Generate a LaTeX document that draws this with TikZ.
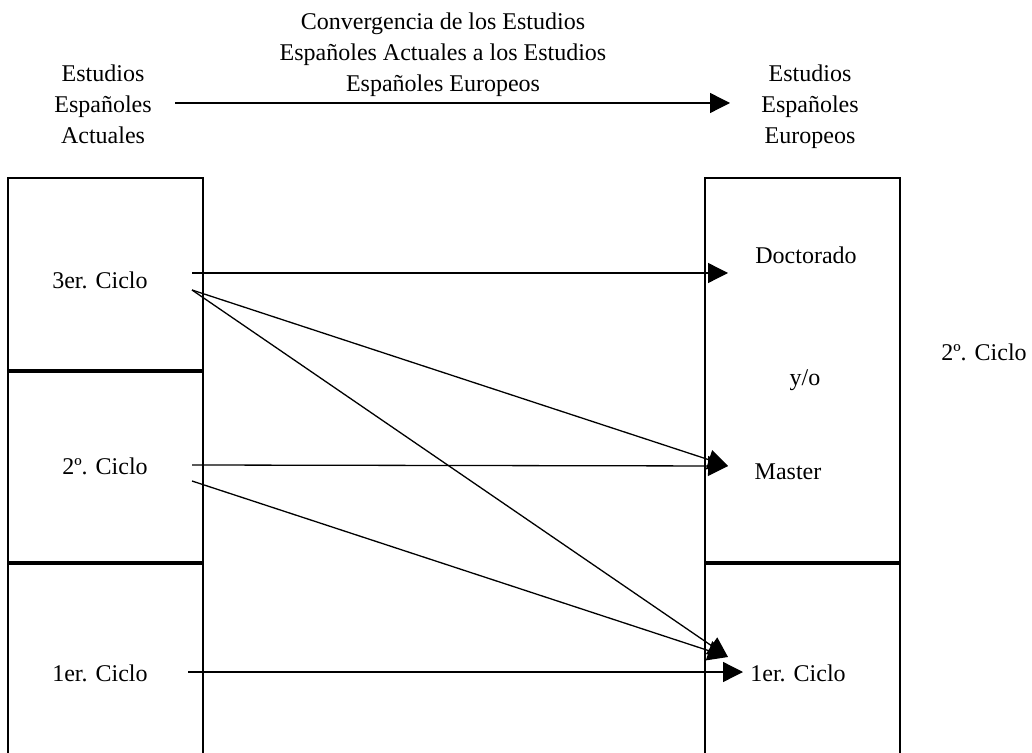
\documentclass[tikz,border=0pt]{standalone}
\usepackage{fontspec}
\setmainfont{Liberation Serif}
\usetikzlibrary{arrows.meta}
\tikzset{
  box/.style={draw, line width=0.7pt},
  lbl/.style={inner sep=0pt, font=\fontsize{12}{15.5}\selectfont, align=center},
  flow/.style={line width=0.65pt, -{Triangle[length=10pt,width=10pt]}},
}

\begin{document}
\begin{tikzpicture}[x=0.5pt,y=-0.5pt]
    \useasboundingbox (0,0) rectangle (1032,753);

    % Left column (current studies)
    \draw[box] (8,178) rectangle (203,370);
    \draw[box] (8,372) rectangle (203,562);
    \draw[box] (8,753) -- (8,564) -- (203,564) -- (203,753);

    % Right column (European studies)
    \draw[box] (705,178) rectangle (900,562);
    \draw[box] (705,753) -- (705,564) -- (900,564) -- (900,753);

    % Headings
    \node[lbl] (actual) at (103,104) {Estudios\\Españoles\\Actuales};
    \node[lbl] (europ) at (810,107) {Estudios\\Españoles\\Europeos};
    \node[lbl] (title) at (443,55) {Convergencia de los Estudios\\Españoles Actuales a los Estudios\\Españoles Europeos};

    % Cycle labels
    \node[lbl] (tercer) at (100,280) {3er. Ciclo};
    \node[lbl] (segundo) at (105,466) {2º. Ciclo};
    \node[lbl] (primer) at (100,673) {1er. Ciclo};
    \node[lbl] (doct) at (806,255) {Doctorado};
    \node[lbl] (yo) at (805,380) {y/o};
    \node[lbl] (master) at (788,472) {Master};
    \node[lbl] (grado) at (798,673) {1er. Ciclo};
    \node[lbl] (segside) at (984,352) {2º. Ciclo};

    % Arrow end points
    \coordinate (actual-out) at (175,103);
    \coordinate (europ-in) at (730,103);
    \coordinate (tercer-out) at (192,273);
    \coordinate (tercer-diag) at (192,290);
    \coordinate (segundo-out) at (192,465);
    \coordinate (segundo-diag) at (192,481);
    \coordinate (primer-out) at (188,672);
    \coordinate (doct-in) at (728,273);
    \coordinate (master-in) at (728,466);
    \coordinate (grado-diag) at (728,657);
    \coordinate (grado-in) at (743,672);

    % Arrows
    \draw[flow] (actual-out) -- (europ-in);
    \draw[flow] (tercer-out) -- (doct-in);
    \draw[flow] (tercer-diag) -- (master-in);
    \draw[flow] (tercer-diag) -- (grado-diag);
    \draw[flow] (segundo-out) -- (master-in);
    \draw[flow] (segundo-diag) -- (grado-diag);
    \draw[flow] (primer-out) -- (grado-in);

\end{tikzpicture}
\end{document}
